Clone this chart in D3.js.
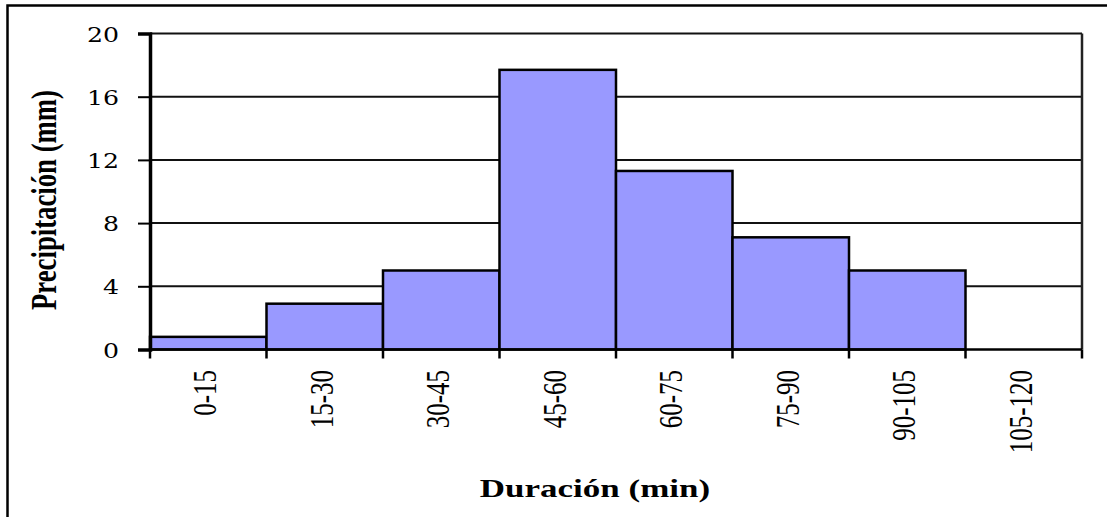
<!DOCTYPE html>
<html>
<head>
<meta charset="utf-8">
<script src="https://cdn.jsdelivr.net/npm/d3@7"></script>
<style>
  html, body { margin: 0; padding: 0; background: #fff; }
  svg { display: block; }
  text { font-family: "Liberation Serif", "Times New Roman", serif; fill: #000; }
</style>
</head>
<body>
<svg id="chart" width="1107" height="517"></svg>
<script>
// Precipitation per 15-minute duration interval
const categories = ["0-15", "15-30", "30-45", "45-60", "60-75", "75-90", "90-105", "105-120"];
const precipitation = [0.8, 2.9, 5.0, 17.7, 11.3, 7.1, 5.0, 0];
const yTicks = [0, 4, 8, 12, 16, 20];
const xTitle = "Duración (min)";
const yTitle = "Precipitación (mm)";

const svg = d3.select("#chart");
const plot = { left: 150, right: 1082, top: 33.5, bottom: 349.5 };

const x = d3.scaleBand().domain(categories).range([plot.left, plot.right]).padding(0);
const y = d3.scaleLinear().domain([0, 20]).range([plot.bottom, plot.top]);

// outer frame (runs past the right and bottom edges)
svg.append("rect")
  .attr("x", 7.5).attr("y", 5.5)
  .attr("width", 1120).attr("height", 530)
  .attr("fill", "none").attr("stroke", "#000").attr("stroke-width", 2.5);

// horizontal gridlines
svg.append("g")
  .selectAll("line")
  .data(yTicks.filter(d => d > 0))
  .join("line")
  .attr("x1", plot.left).attr("x2", plot.right)
  .attr("y1", d => y(d)).attr("y2", d => y(d))
  .attr("stroke", "#111").attr("stroke-width", 2);

// right border of the plot area
svg.append("line")
  .attr("x1", plot.right).attr("x2", plot.right)
  .attr("y1", plot.top).attr("y2", plot.bottom)
  .attr("stroke", "#222").attr("stroke-width", 2.5);

// bars
svg.append("g")
  .selectAll("rect")
  .data(categories.map((c, i) => ({ c, v: precipitation[i] })).filter(d => d.v > 0))
  .join("rect")
  .attr("x", d => x(d.c))
  .attr("y", d => y(d.v))
  .attr("width", x.bandwidth())
  .attr("height", d => y(0) - y(d.v))
  .attr("fill", "#9999FF")
  .attr("stroke", "#000")
  .attr("stroke-width", 2.5);

// y axis
const yAxis = svg.append("g")
  .attr("transform", `translate(${plot.left},0)`)
  .call(d3.axisLeft(y).tickValues(yTicks).tickSize(12).tickFormat(d3.format("d")));
yAxis.select(".domain").attr("stroke", "#000").attr("stroke-width", 3.5);
yAxis.selectAll(".tick line").attr("stroke", "#000").attr("stroke-width", 2);
yAxis.selectAll(".tick text")
  .attr("x", 0).attr("dy", null).attr("y", 7.5)
  .attr("text-anchor", "end")
  .attr("transform", "translate(-31,0) scale(1.2,1)")
  .style("font-size", "21px")
  .style("font-family", "'DejaVu Serif', serif");

// x axis baseline
svg.append("line")
  .attr("x1", plot.left).attr("x2", plot.right)
  .attr("y1", plot.bottom).attr("y2", plot.bottom)
  .attr("stroke", "#000").attr("stroke-width", 2.5);

// x tick marks on the interval boundaries
const edges = categories.map(c => x(c)).concat([x(categories[categories.length - 1]) + x.bandwidth()]);
svg.append("g")
  .selectAll("line")
  .data(edges)
  .join("line")
  .attr("x1", d => d).attr("x2", d => d)
  .attr("y1", plot.bottom).attr("y2", plot.bottom + 9)
  .attr("stroke", "#000").attr("stroke-width", 2.5);

// x category labels (rotated)
svg.append("g")
  .selectAll("text")
  .data(categories)
  .join("text")
  .attr("text-anchor", "end")
  .attr("transform", d => `translate(${x(d) + x.bandwidth() / 2 + 8},370) rotate(-90) scale(1,1.35)`)
  .style("font-size", "25px")
  .text(d => d);

// axis titles
svg.append("text")
  .attr("text-anchor", "middle")
  .attr("transform", "translate(595,497) scale(1.4,1)")
  .style("font-size", "25px").style("font-weight", "bold")
  .text(xTitle);

svg.append("text")
  .attr("text-anchor", "middle")
  .attr("transform", "translate(56,200) rotate(-90) scale(1,1.45)")
  .attr("textLength", 220).attr("lengthAdjust", "spacingAndGlyphs")
  .style("font-size", "24px").style("font-weight", "bold")
  .text(yTitle);
</script>
</body>
</html>
